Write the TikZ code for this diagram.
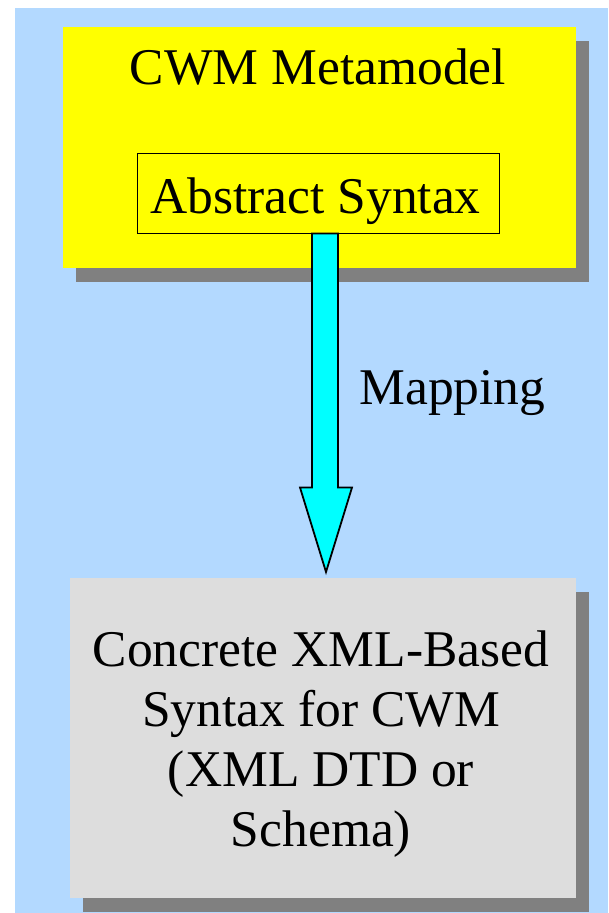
\documentclass[tikz,border=0pt]{standalone}
\usepackage{fontspec}
\setmainfont{Liberation Serif}
\usetikzlibrary{shadows,calc}
\definecolor{sky}{RGB}{179,217,255}
\definecolor{metayellow}{RGB}{255,255,0}
\definecolor{syntaxgray}{RGB}{221,221,221}
\definecolor{shadowgray}{RGB}{128,128,128}
\definecolor{arrowcyan}{RGB}{0,255,255}
\tikzset{
  every node/.style={font={\fontsize{51.5}{60}\selectfont}},
  boxshadow/.style={drop shadow={shadow xshift=13pt, shadow yshift=-14pt, fill=shadowgray, opacity=1}},
  panel/.style={anchor=north west, inner sep=0pt, boxshadow},
  absbox/.style={draw=black, line width=1pt, inner sep=0pt, minimum width=362pt, minimum height=80pt},
  caption/.style={anchor=base, inner sep=0pt},
  maparrow/.style={draw=black, fill=arrowcyan, line width=1.8pt, line join=miter},
}
\begin{document}
\begin{tikzpicture}[x=1pt,y=-1pt]
\useasboundingbox (0,0) rectangle (608,913);
% backdrop
\fill[sky] (15,8) rectangle (608,913);

% metamodel panel
\node[panel, fill=metayellow, minimum width=513pt, minimum height=241pt] (meta) at (63,27) {};
\node[caption] (metatitle) at (318,84) {CWM Metamodel};
\node[absbox] (abs) at (318,193) {};
\node[caption] (abstitle) at (315.5,213) {Abstract Syntax};

% concrete syntax panel (base anchor sits on the last line)
\node[panel, fill=syntaxgray, minimum width=506pt, minimum height=320pt] (concrete) at (70,578) {};
\node[caption, align=center] (concretetitle) at (321,846)
  {Concrete XML-Based\\Syntax for CWM\\(XML DTD or\\Schema)};

% mapping arrow from the abstract syntax down to the concrete syntax
\coordinate (tip) at (326,572);
\path[maparrow]
  ($(abs.south)+(-6,0)$) -- ($(abs.south)+(-6,254)$) -- ($(abs.south)+(-18,254)$)
  -- (tip)
  -- ($(abs.south)+(34,254)$) -- ($(abs.south)+(20,254)$) -- ($(abs.south)+(20,0)$) -- cycle;
\node[caption] (maplabel) at (452.5,404) {Mapping};
\end{tikzpicture}
\end{document}
